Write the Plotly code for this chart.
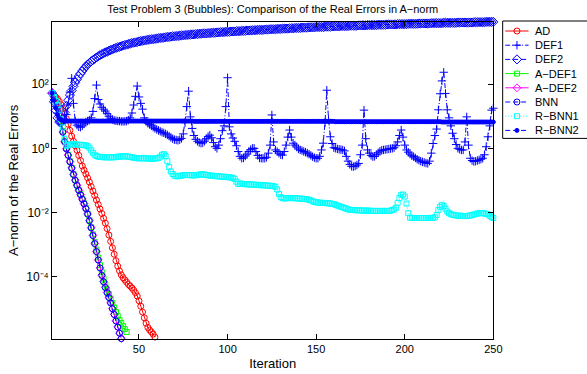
import plotly.graph_objects as go

# ---------------------------------------------------------------------------
# Errors in the A-norm, stored as log10 values (one per iteration, from 1)
# ---------------------------------------------------------------------------
AD_LOG = [
    1.72, 1.66, 1.60, 1.54, 1.46, 1.36, 1.24, 1.10, 0.92, 0.75,
    0.56, 0.38, 0.22, 0.08, -0.06, -0.22, -0.38, -0.55, -0.68, -0.80,
    -0.92, -1.05, -1.19, -1.33, -1.47, -1.61, -1.75, -1.89, -2.03, -2.18,
    -2.33, -2.50, -2.70, -2.90, -3.10, -3.30, -3.50, -3.67, -3.82, -3.94,
    -4.03, -4.10, -4.17, -4.24, -4.29, -4.35, -4.42, -4.50, -4.60, -4.75,
    -4.92, -5.10, -5.28, -5.45, -5.58, -5.66, -5.72, -5.79, -5.88,
]

DEF1_LOG = [
    1.72, 1.52, 1.30, 1.10, 0.95, 0.88, 0.86, 0.90, 1.05, 1.35,
    1.75, 2.18, 1.40, 0.85, 0.72, 0.67, 0.66, 0.70, 0.76, 0.82,
    0.85, 0.88, 0.95, 1.15, 1.55, 1.97, 1.52, 1.38, 1.28, 1.22,
    1.16, 1.08, 1.00, 0.94, 0.90, 0.87, 0.86, 0.85, 0.85, 0.84,
    0.84, 0.84, 0.85, 0.88, 0.95, 1.10, 1.35, 1.62, 1.94, 1.60,
    1.40, 1.22, 0.95, 0.84, 0.78, 0.74, 0.70, 0.66, 0.62, 0.59,
    0.56, 0.53, 0.50, 0.48, 0.45, 0.42, 0.38, 0.34, 0.30, 0.27,
    0.26, 0.25, 0.27, 0.31, 0.45, 0.80, 1.30, 1.78, 0.98, 0.62,
    0.40, 0.28, 0.22, 0.18, 0.16, 0.17, 0.22, 0.30, 0.37, 0.41,
    0.33, 0.18, 0.05, 0.00, 0.10, 0.30, 0.55, 0.70, 1.30, 2.20,
    0.67, 0.45, 0.32, 0.22, 0.08, -0.10, -0.25, -0.31, -0.30, -0.24,
    -0.18, -0.10, -0.04, 0.00, 0.00, -0.10, -0.22, -0.30, -0.31, -0.31,
    -0.31, -0.28, -0.15, 0.10, 1.04, 0.20, -0.05, -0.10, -0.15, -0.20,
    -0.21, -0.10, 0.10, 0.35, 0.57, 0.35, 0.16, 0.10, 0.04, -0.02,
    -0.05, -0.07, -0.10, -0.12, -0.15, -0.18, -0.22, -0.26, -0.29, -0.31,
    -0.31, -0.25, -0.05, 0.16, 0.80, 1.81, 0.90, 0.36, 0.15, 0.02,
    0.00, -0.02, -0.03, -0.04, -0.05, -0.08, -0.25, -0.40, -0.50, -0.56,
    -0.57, -0.55, -0.52, -0.47, -0.20, 0.10, 1.19, 0.30, -0.05, -0.15,
    -0.22, -0.26, -0.25, -0.20, -0.14, -0.09, -0.06, -0.05, -0.04, -0.03,
    -0.02, -0.01, 0.00, 0.02, 0.08, 0.20, 0.40, 0.57, 0.35, 0.10,
    -0.05, -0.12, -0.18, -0.23, -0.26, -0.30, -0.34, -0.37, -0.40, -0.42,
    -0.44, -0.46, -0.47, -0.40, -0.15, 0.15, 0.40, 0.60, 1.20, 1.70,
    2.10, 2.37, 1.71, 1.20, 0.95, 0.70, 0.47, 0.30, 0.12, 0.00,
    -0.03, -0.05, -0.05, 0.20, 0.98, 0.10, -0.31, -0.38, -0.41, -0.40,
    -0.38, -0.36, -0.34, -0.31, -0.20, 0.05, 0.36, 0.70, 1.19, 1.25,
]

DEF2_LOG = [
    1.72, 1.45, 1.18, 0.95, 0.82, 0.80, 0.92, 1.12, 1.32, 1.50,
    1.66, 1.80, 1.93, 2.05, 2.15, 2.25, 2.33, 2.41, 2.48, 2.55,
    2.61, 2.66, 2.71, 2.75, 2.79, 2.83, 2.87, 2.90, 2.93, 2.96,
    2.99, 3.01, 3.04, 3.06, 3.08, 3.11, 3.13, 3.15, 3.16, 3.18,
    3.20, 3.22, 3.23, 3.25, 3.26, 3.28, 3.29, 3.30, 3.31, 3.33,
    3.34, 3.35, 3.36, 3.37, 3.38, 3.39, 3.40, 3.40, 3.41, 3.42,
    3.43, 3.44, 3.44, 3.45, 3.46, 3.47, 3.47, 3.48, 3.49, 3.49,
    3.50, 3.50, 3.51, 3.52, 3.52, 3.53, 3.53, 3.54, 3.54, 3.55,
    3.55, 3.56, 3.56, 3.57, 3.57, 3.58, 3.58, 3.58, 3.59, 3.59,
    3.60, 3.60, 3.60, 3.61, 3.61, 3.62, 3.62, 3.62, 3.63, 3.63,
    3.63, 3.64, 3.64, 3.64, 3.65, 3.65, 3.65, 3.66, 3.66, 3.66,
    3.67, 3.67, 3.67, 3.68, 3.68, 3.68, 3.69, 3.69, 3.69, 3.69,
    3.70, 3.70, 3.70, 3.71, 3.71, 3.71, 3.71, 3.72, 3.72, 3.72,
    3.73, 3.73, 3.73, 3.73, 3.74, 3.74, 3.74, 3.75, 3.75, 3.75,
    3.75, 3.76, 3.76, 3.76, 3.76, 3.77, 3.77, 3.77, 3.77, 3.78,
    3.78, 3.78, 3.78, 3.78, 3.79, 3.79, 3.79, 3.79, 3.80, 3.80,
    3.80, 3.80, 3.80, 3.81, 3.81, 3.81, 3.81, 3.81, 3.82, 3.82,
    3.82, 3.82, 3.82, 3.83, 3.83, 3.83, 3.83, 3.83, 3.84, 3.84,
    3.84, 3.84, 3.84, 3.84, 3.85, 3.85, 3.85, 3.85, 3.85, 3.86,
    3.86, 3.86, 3.86, 3.86, 3.86, 3.87, 3.87, 3.87, 3.87, 3.87,
    3.87, 3.88, 3.88, 3.88, 3.88, 3.88, 3.88, 3.89, 3.89, 3.89,
    3.89, 3.89, 3.89, 3.89, 3.90, 3.90, 3.90, 3.90, 3.90, 3.90,
    3.90, 3.91, 3.91, 3.91, 3.91, 3.91, 3.91, 3.91, 3.91, 3.92,
    3.92, 3.92, 3.92, 3.92, 3.92, 3.92, 3.92, 3.92, 3.93, 3.93,
    3.93, 3.93, 3.93, 3.93, 3.93, 3.94, 3.94, 3.94, 3.94, 3.94,
]

ADEF1_LOG = [
    1.72, 1.61, 1.47, 1.30, 1.10, 0.85, 0.54, 0.24, 0.01, -0.20,
    -0.40, -0.60, -0.80, -0.98, -1.14, -1.29, -1.43, -1.57, -1.71, -1.86,
    -2.03, -2.23, -2.45, -2.68, -2.92, -3.16, -3.40, -3.64, -3.86, -4.06,
    -4.24, -4.40, -4.54, -4.68, -4.82, -4.96, -5.10, -5.23, -5.35, -5.44,
    -5.54, -5.63, -5.72,
]

ADEF2_LOG = [
    1.72, 1.61, 1.46, 1.29, 1.08, 0.83, 0.51, 0.21, -0.01, -0.21,
    -0.41, -0.61, -0.81, -0.99, -1.15, -1.30, -1.44, -1.58, -1.72, -1.87,
    -2.04, -2.25, -2.47, -2.71, -2.96, -3.21, -3.47, -3.72, -3.95, -4.15,
    -4.33, -4.49, -4.64, -4.81, -4.99, -5.17, -5.37, -5.56, -5.75, -5.92,
]

BNN_LOG = [
    1.72, 1.60, 1.45, 1.28, 1.08, 0.82, 0.50, 0.20, -0.02, -0.22,
    -0.42, -0.62, -0.82, -1.00, -1.16, -1.31, -1.45, -1.59, -1.73, -1.88,
    -2.05, -2.26, -2.48, -2.72, -2.97, -3.22, -3.48, -3.73, -3.96, -4.16,
    -4.34, -4.50, -4.65, -4.82, -5.00, -5.18, -5.38, -5.57, -5.76, -5.93,
]

RBNN1_LOG = [
    1.72, 1.60, 1.48, 1.35, 1.20, 0.90, 0.65, 0.30, 0.08, 0.10,
    0.12, 0.13, 0.13, 0.12, 0.12, 0.11, 0.11, 0.10, 0.10, 0.09,
    0.07, 0.02, -0.06, -0.14, -0.20, -0.24, -0.26, -0.27, -0.27, -0.28,
    -0.28, -0.28, -0.28, -0.28, -0.28, -0.28, -0.27, -0.26, -0.26, -0.25,
    -0.25, -0.25, -0.25, -0.26, -0.27, -0.28, -0.29, -0.30, -0.31, -0.31,
    -0.31, -0.31, -0.31, -0.31, -0.32, -0.32, -0.32, -0.32, -0.32, -0.31,
    -0.30, -0.26, -0.20, -0.18, -0.24, -0.40, -0.58, -0.72, -0.80, -0.85,
    -0.87, -0.87, -0.86, -0.85, -0.84, -0.83, -0.83, -0.83, -0.84, -0.84,
    -0.84, -0.84, -0.83, -0.82, -0.81, -0.81, -0.82, -0.83, -0.84, -0.85,
    -0.85, -0.86, -0.86, -0.87, -0.87, -0.88, -0.88, -0.89, -0.89, -0.90,
    -0.90, -0.91, -0.92, -0.95, -1.04, -1.11, -1.10, -1.10, -1.11, -1.12,
    -1.12, -1.12, -1.13, -1.13, -1.13, -1.14, -1.14, -1.14, -1.15, -1.15,
    -1.15, -1.16, -1.16, -1.17, -1.17, -1.18, -1.20, -1.28, -1.42, -1.52,
    -1.55, -1.56, -1.56, -1.55, -1.55, -1.55, -1.55, -1.55, -1.56, -1.56,
    -1.57, -1.57, -1.58, -1.58, -1.59, -1.60, -1.62, -1.65, -1.67, -1.68,
    -1.69, -1.69, -1.70, -1.70, -1.70, -1.71, -1.71, -1.72, -1.73, -1.74,
    -1.76, -1.78, -1.80, -1.82, -1.84, -1.86, -1.88, -1.90, -1.91, -1.92,
    -1.92, -1.93, -1.93, -1.93, -1.93, -1.94, -1.94, -1.94, -1.94, -1.94,
    -1.95, -1.95, -1.95, -1.95, -1.95, -1.95, -1.95, -1.95, -1.95, -1.95,
    -1.95, -1.94, -1.92, -1.90, -1.85, -1.70, -1.55, -1.45, -1.44, -1.50,
    -1.72, -2.02, -2.16, -2.17, -2.17, -2.17, -2.17, -2.17, -2.17, -2.17,
    -2.17, -2.17, -2.17, -2.17, -2.17, -2.16, -2.15, -2.08, -1.92, -1.82,
    -1.76, -1.80, -1.88, -1.97, -2.02, -2.05, -2.07, -2.08, -2.09, -2.10,
    -2.10, -2.10, -2.11, -2.11, -2.11, -2.10, -2.09, -2.08, -2.06, -2.05,
    -2.03, -2.02, -2.02, -2.02, -2.03, -2.04, -2.06, -2.10, -2.14, -2.17,
]

RBNN2_LOG = [
    1.72, 1.50, 1.26, 1.05, 0.93, 0.88, 0.86, 0.86, 0.85, 0.85,
    0.85, 0.85, 0.85, 0.85, 0.85, 0.85, 0.85, 0.85, 0.85, 0.85,
    0.85, 0.85, 0.85, 0.85, 0.85, 0.85, 0.85, 0.85, 0.85, 0.85,
    0.85, 0.85, 0.85, 0.85, 0.85, 0.85, 0.85, 0.85, 0.85, 0.85,
    0.85, 0.85, 0.85, 0.85, 0.85, 0.85, 0.85, 0.85, 0.85, 0.85,
    0.85, 0.85, 0.85, 0.85, 0.85, 0.85, 0.85, 0.85, 0.85, 0.85,
    0.85, 0.85, 0.85, 0.85, 0.85, 0.85, 0.85, 0.85, 0.85, 0.85,
    0.85, 0.85, 0.85, 0.85, 0.85, 0.85, 0.85, 0.85, 0.85, 0.85,
    0.84, 0.84, 0.84, 0.84, 0.84, 0.84, 0.84, 0.84, 0.84, 0.84,
    0.84, 0.84, 0.84, 0.84, 0.84, 0.84, 0.84, 0.84, 0.84, 0.84,
    0.84, 0.84, 0.84, 0.84, 0.84, 0.84, 0.84, 0.84, 0.84, 0.84,
    0.84, 0.84, 0.84, 0.84, 0.84, 0.84, 0.84, 0.84, 0.84, 0.84,
    0.84, 0.84, 0.84, 0.84, 0.84, 0.84, 0.84, 0.84, 0.84, 0.84,
    0.84, 0.84, 0.84, 0.84, 0.84, 0.84, 0.84, 0.84, 0.84, 0.84,
    0.84, 0.84, 0.84, 0.84, 0.84, 0.84, 0.84, 0.84, 0.84, 0.84,
    0.84, 0.84, 0.84, 0.84, 0.84, 0.84, 0.84, 0.84, 0.84, 0.84,
    0.83, 0.83, 0.83, 0.83, 0.83, 0.83, 0.83, 0.83, 0.83, 0.83,
    0.83, 0.83, 0.83, 0.83, 0.83, 0.83, 0.83, 0.83, 0.83, 0.83,
    0.83, 0.83, 0.83, 0.83, 0.83, 0.83, 0.83, 0.83, 0.83, 0.83,
    0.83, 0.83, 0.83, 0.83, 0.83, 0.83, 0.83, 0.83, 0.83, 0.83,
    0.83, 0.83, 0.83, 0.83, 0.83, 0.83, 0.83, 0.83, 0.83, 0.83,
    0.83, 0.83, 0.83, 0.83, 0.83, 0.83, 0.83, 0.83, 0.83, 0.83,
    0.82, 0.82, 0.82, 0.82, 0.82, 0.82, 0.82, 0.82, 0.82, 0.82,
    0.82, 0.82, 0.82, 0.82, 0.82, 0.82, 0.82, 0.82, 0.82, 0.82,
    0.82, 0.82, 0.82, 0.82, 0.82, 0.82, 0.82, 0.82, 0.82, 0.82,
]

X_TICKS = [50, 100, 150, 200, 250]
Y_TICK_EXP = [-4, -2, 0, 2]
Y_TICK_TEXT = ["10\u207b\u2074", "10\u207b\u00b2", "10\u2070", "10\u00b2"]

TITLE = "Test Problem 3 (Bubbles): Comparison of the Real Errors in A\u2212norm"
X_LABEL = "Iteration"
Y_LABEL = "A\u2212norm of the Real Errors"

# name, data, colour, dash, marker symbol, marker size
SERIES = [
    ("AD", AD_LOG, "#ff0000", "solid", "circle-open", 6),
    ("DEF1", DEF1_LOG, "#0000ff", "5px,2px,1px,2px", "cross-thin-open", 6),
    ("DEF2", DEF2_LOG, "#0000ff", "5px,3px", "diamond-open", 7),
    ("A\u2212DEF1", ADEF1_LOG, "#00ff00", "solid", "square-open", 5),
    ("A\u2212DEF2", ADEF2_LOG, "#ff00ff", "solid", "diamond-open", 6),
    ("BNN", BNN_LOG, "#0000ff", "5px,3px", "circle-open", 6),
    ("R\u2212BNN1", RBNN1_LOG, "#00ffff", "1px,2px", "square-open", 5),
    ("R\u2212BNN2", RBNN2_LOG, "#0000ff", "5px,3px", "circle", 4),
]

W, H = 587, 374
# axes box in pixels
AX_L, AX_R, AX_T, AX_B = 53, 501, 21.7, 339
FONT = "Liberation Sans, Arial, Helvetica, sans-serif"


def px_x(p):
    return p / W


def px_y(p):
    return 1 - p / H


fig = go.Figure()

for name, logs, color, dash, symbol, size in SERIES:
    fig.add_trace(go.Scatter(
        x=list(range(1, len(logs) + 1)),
        y=[10 ** v for v in logs],
        mode="lines+markers",
        name=name,
        line=dict(color=color, width=1, dash=dash),
        marker=dict(symbol=symbol, size=size, color=color,
                    line=dict(color=color, width=1)),
        showlegend=False,
        cliponaxis=False,
        xaxis="x", yaxis="y",
    ))

# legend: sample line with a marker in the middle, one row per series
ROW_TOP, ROW_STEP = 31, 14.2
for i, (name, logs, color, dash, symbol, size) in enumerate(SERIES):
    fig.add_trace(go.Scatter(
        x=[0, 1], y=[i, i], mode="lines",
        line=dict(color=color, width=1, dash=dash),
        showlegend=False, hoverinfo="skip", xaxis="x2", yaxis="y2",
    ))
    fig.add_trace(go.Scatter(
        x=[0.5], y=[i], mode="markers",
        marker=dict(symbol=symbol, size=size, color=color,
                    line=dict(color=color, width=1)),
        showlegend=False, hoverinfo="skip", xaxis="x2", yaxis="y2",
    ))
    fig.add_annotation(
        x=px_x(541), y=px_y(ROW_TOP + ROW_STEP * i), xref="paper", yref="paper",
        text=name, showarrow=False, xanchor="left", yanchor="middle",
        font=dict(family=FONT, size=11, color="black"),
    )

n = len(SERIES)
fig.add_shape(
    type="rect", xref="paper", yref="paper",
    x0=px_x(510.5), x1=px_x(640),
    y0=px_y(ROW_TOP + ROW_STEP * (n - 1) + 8), y1=px_y(21),
    line=dict(color="black", width=1), fillcolor="rgba(0,0,0,0)", layer="above",
)

fig.update_layout(
    width=W, height=H,
    margin=dict(l=0, r=0, t=0, b=0),
    paper_bgcolor="white", plot_bgcolor="white",
    font=dict(family=FONT, size=11, color="black"),
    title=dict(text=TITLE, x=px_x((AX_L + AX_R) / 2), xanchor="center",
               y=px_y(9), yanchor="middle", xref="paper", yref="paper",
               font=dict(family=FONT, size=11, color="black")),
    xaxis=dict(
        domain=[px_x(AX_L), px_x(AX_R)], range=[1, 250],
        tickvals=X_TICKS, ticks="inside", ticklen=5, tickcolor="black",
        showline=True, linecolor="black", linewidth=1, mirror="ticks",
        showgrid=False, zeroline=False, anchor="y",
        title=dict(text=X_LABEL, standoff=4),
        tickfont=dict(family=FONT, size=11),
    ),
    yaxis=dict(
        type="log", domain=[px_y(AX_B), px_y(AX_T)], range=[-5.94, 3.945],
        tickvals=[10 ** e for e in Y_TICK_EXP], ticktext=Y_TICK_TEXT,
        ticks="inside", ticklen=5, tickcolor="black",
        showline=True, linecolor="black", linewidth=1, mirror="ticks",
        showgrid=False, zeroline=False, anchor="x",
        title=dict(text=Y_LABEL, standoff=4),
        tickfont=dict(family=FONT, size=12),
    ),
    xaxis2=dict(domain=[px_x(513), px_x(537)], range=[0, 1], visible=False,
                anchor="y2"),
    yaxis2=dict(domain=[px_y(ROW_TOP + ROW_STEP * (n - 1) + 7), px_y(ROW_TOP - 7)],
                range=[n - 1 + 7 / ROW_STEP, -7 / ROW_STEP], visible=False,
                anchor="x2"),
    showlegend=False,
)

fig.write_html("out.html")
